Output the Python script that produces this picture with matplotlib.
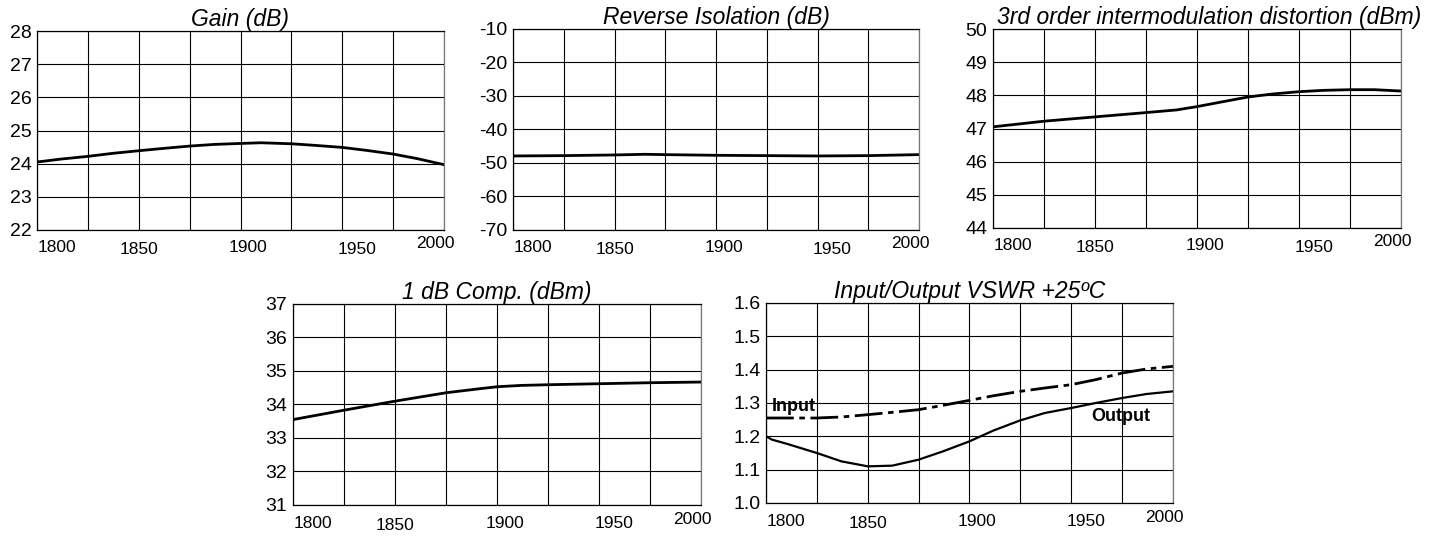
import matplotlib.pyplot as plt
import matplotlib.ticker as mticker
import matplotlib.transforms as mtransforms

plt.rcParams['font.family'] = ['Liberation Sans', 'DejaVu Sans']

# values (frequency in MHz)
gain_f = [1800, 1812, 1825, 1837, 1850, 1862, 1875, 1887, 1900, 1910, 1925, 1937, 1950, 1962, 1975, 1987, 2000]
gain = [24.05, 24.14, 24.22, 24.31, 24.39, 24.46, 24.53, 24.58, 24.61, 24.63, 24.60, 24.55, 24.49, 24.40, 24.29, 24.15, 23.97]

iso_f = [1800, 1825, 1850, 1865, 1875, 1900, 1925, 1950, 1975, 2000]
rev_iso = [-47.9, -47.8, -47.6, -47.4, -47.5, -47.7, -47.8, -47.9, -47.8, -47.5]

imd_f = [1800, 1825, 1850, 1875, 1890, 1900, 1912, 1925, 1937, 1950, 1962, 1975, 1987, 2000]
imd3 = [47.05, 47.22, 47.35, 47.48, 47.56, 47.66, 47.80, 47.95, 48.04, 48.11, 48.15, 48.17, 48.17, 48.13]

p1_f = [1800, 1825, 1850, 1875, 1890, 1900, 1912, 1925, 1950, 1975, 2000]
p1db = [33.55, 33.83, 34.10, 34.35, 34.46, 34.53, 34.57, 34.59, 34.62, 34.65, 34.67]

vin_f = [1800, 1812, 1825, 1837, 1850, 1862, 1875, 1887, 1900, 1912, 1925, 1937, 1950, 1962, 1975, 1987, 2000]
vswr_in = [1.255, 1.255, 1.255, 1.258, 1.265, 1.272, 1.28, 1.293, 1.308, 1.322, 1.335, 1.345, 1.355, 1.37, 1.39, 1.402, 1.41]
vout_f = [1800, 1803, 1810, 1825, 1837, 1850, 1862, 1875, 1887, 1900, 1912, 1925, 1937, 1950, 1962, 1975, 1987, 2000]
vswr_out = [1.20, 1.19, 1.178, 1.15, 1.125, 1.11, 1.112, 1.13, 1.155, 1.185, 1.218, 1.248, 1.27, 1.285, 1.30, 1.315, 1.327, 1.335]

xticks = [1800, 1850, 1900, 1950, 2000]
xlabels = ['1800', '1850', '1900', '1950', '2000']
# the scanned labels sit a little off their grid lines (pixel nudges)
label_dx = [20, 0, 8, 15, -9]
label_dy = [0, -2, 0, -1, 4]

W, H = 1450, 539
fig = plt.figure(figsize=(W / 100, H / 100), dpi=100)


def make_ax(l, r, t, b):
    return fig.add_axes([l / W, 1 - b / H, (r - l) / W, (b - t) / H])


def style(ax, title, ymin, ymax, ystep, fmt='%d', title_x=0.5):
    ax.set_xlim(1800, 2000)
    ax.set_ylim(ymin, ymax)
    ax.xaxis.set_major_locator(mticker.MultipleLocator(25))
    ax.xaxis.set_major_formatter(mticker.NullFormatter())
    ax.yaxis.set_major_locator(mticker.MultipleLocator(ystep))
    ax.yaxis.set_major_formatter(mticker.FormatStrFormatter(fmt))
    ax.grid(True, color='black', lw=0.8)
    ax.tick_params(length=0)
    ax.tick_params(axis='y', pad=4, labelsize=14)
    for s in ax.spines.values():
        s.set_color('black')
        s.set_linewidth(0.9)
    ax.spines['right'].set_color('#777777')
    ax.set_title(title, fontsize=16.5, style='italic', pad=0, x=title_x)
    base = mtransforms.blended_transform_factory(ax.transData, ax.transAxes)
    for v, lab, dx, dy in zip(xticks, xlabels, label_dx, label_dy):
        tr = mtransforms.offset_copy(base, fig=fig, x=dx, y=dy - 18, units='dots')
        ax.text(v, 0, lab, transform=tr, ha='center', va='center', fontsize=12.5)


ax1 = make_ax(37, 444, 31, 230)
ax1.plot(gain_f, gain, color='black', lw=2)
style(ax1, 'Gain (dB)', 22, 28, 1)

ax2 = make_ax(513, 919, 29, 230)
ax2.plot(iso_f, rev_iso, color='black', lw=2)
style(ax2, 'Reverse Isolation (dB)', -70, -10, 10)

ax3 = make_ax(993, 1401, 29, 228)
ax3.plot(imd_f, imd3, color='black', lw=2)
style(ax3, '3rd order intermodulation distortion (dBm)', 44, 50, 1, title_x=0.53)

ax4 = make_ax(293, 701, 304, 505)
ax4.plot(p1_f, p1db, color='black', lw=2)
style(ax4, '1 dB Comp. (dBm)', 31, 37, 1)

ax5 = make_ax(766, 1173, 303, 503)
ax5.plot(vin_f, vswr_in, color='black', lw=2, linestyle=(0, (10, 2, 2, 2)))
ax5.plot(vout_f, vswr_out, color='black', lw=1.6)
style(ax5, 'Input/Output VSWR +25\u00baC', 1.0, 1.6, 0.1, fmt='%.1f')
ax5.text(1803, 1.29, 'Input', fontsize=13, fontweight='bold', va='center')
ax5.text(1960, 1.26, 'Output', fontsize=13, fontweight='bold', va='center')

fig.savefig('out.png', dpi=100)
